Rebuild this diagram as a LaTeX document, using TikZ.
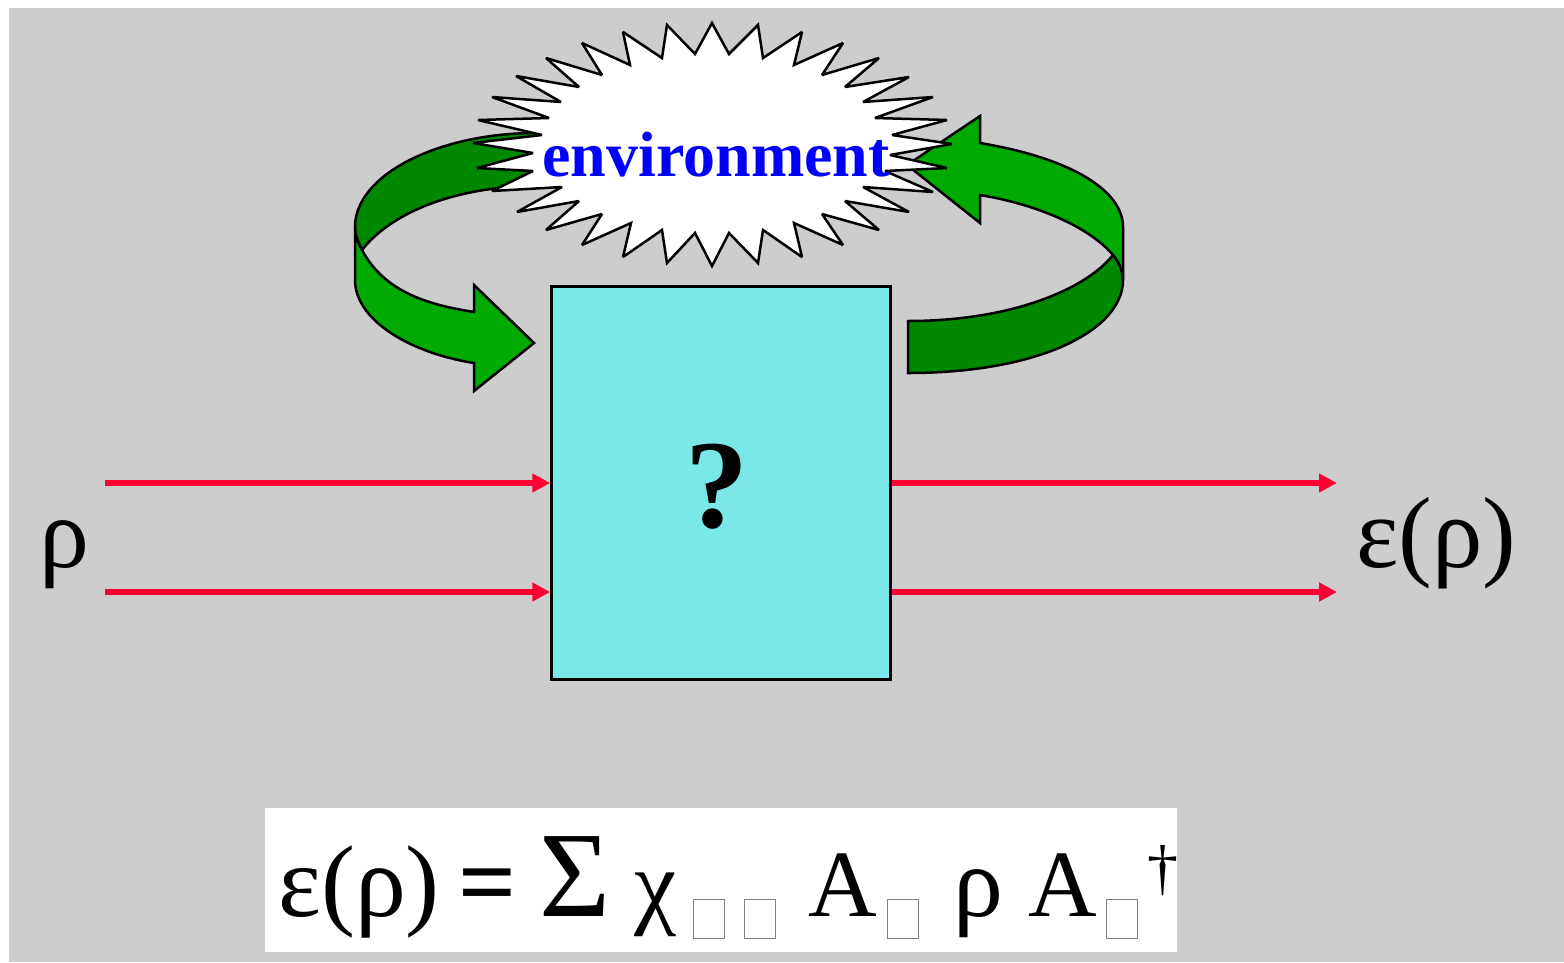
\documentclass[tikz,border=0pt]{standalone}
\usepackage{fontspec}
\setmainfont{Liberation Serif}
\usetikzlibrary{arrows.meta,positioning,calc}
\definecolor{panelgray}{HTML}{CDCDCD}
\definecolor{boxcyan}{HTML}{7AE8E8}
\definecolor{lightgreen}{HTML}{00AA00}
\definecolor{darkgreen}{HTML}{008800}
\definecolor{wirered}{HTML}{FF0033}
\tikzset{
  wire/.style={draw=wirered,line width=6pt,-{Triangle[length=18pt,width=18pt]}},
  outlined/.style={draw=black,line width=2.5pt,line join=miter},
  greeklabel/.style={inner sep=0pt,anchor=base west,font=\fontsize{100}{100}\selectfont},
  latinlabel/.style={inner sep=0pt,anchor=base west,font=\fontsize{95}{95}\selectfont},
  tofu/.style={draw=gray,fill=white,line width=1.5pt,inner sep=0pt,minimum width=31pt,minimum height=39pt}
}
\begin{document}
\begin{tikzpicture}[x=1pt,y=-1pt]
\useasboundingbox (0,0) rectangle (1564,962);
\fill[white] (0,0) rectangle (1564,962);
\fill[panelgray] (9,8) rectangle (1564,962);

\path[outlined,fill=darkgreen] (536,133) .. controls (438,133) and (355,175) .. (355,227) .. controls (355,235) and (358,243) .. (362,250) .. controls (395,208) and (465,186) .. (536,186) -- cycle;
\path[outlined,fill=lightgreen] (355,227) -- (355,280) .. controls (355,320) and (410,353) .. (474,363) -- (474,391) -- (534,343) -- (474,285) -- (474,312) .. controls (430,305) and (385,293) .. (362,250) .. controls (358,243) and (355,235) .. (355,227) -- cycle;

\path[outlined,fill=darkgreen] (908,321) .. controls (1010,321) and (1085,290) .. (1113,255) .. controls (1119,262) and (1123,271) .. (1123,280) .. controls (1123,330) and (1040,373) .. (908,373) -- cycle;
\path[outlined,fill=lightgreen] (980,143) .. controls (1070,158) and (1123,190) .. (1123,227) -- (1123,280) .. controls (1123,271) and (1119,262) .. (1113,255) .. controls (1090,228) and (1040,205) .. (980,195) -- (980,223) -- (907,165) -- (980,116) -- cycle;

\path[outlined,fill=white,miter limit=2.5] (712,23) -- (729,54) -- (758,25) -- (763,58) -- (802,32) -- (794,65) -- (843,43) -- (822,75) -- (879,58) -- (845,87) -- (909,77) -- (863,102) -- (933,97) -- (875,118) -- (947,120) -- (892,135) -- (952,144) -- (890,155) -- (947,168) -- (885,171) -- (933,192) -- (863,187) -- (909,212) -- (845,201) -- (879,230) -- (822,214) -- (843,245) -- (794,223) -- (802,257) -- (763,230) -- (758,263) -- (729,233) -- (712,266) -- (695,233) -- (667,263) -- (662,230) -- (623,257) -- (631,223) -- (582,245) -- (602,214) -- (546,230) -- (579,201) -- (517,212) -- (562,187) -- (492,191) -- (533,171) -- (477,168) -- (533,153) -- (473,143) -- (542,135) -- (478,120) -- (549,118) -- (492,97) -- (561,102) -- (516,76) -- (579,87) -- (546,58) -- (602,75) -- (582,43) -- (630,65) -- (623,32) -- (662,58) -- (667,25) -- (695,54) -- cycle;

\node[text=blue,inner sep=0pt,font=\fontsize{64}{64}\selectfont\bfseries] (env) at (716,155) {environment};

\node[draw=black,line width=2.5pt,fill=boxcyan,minimum width=339pt,minimum height=393pt,inner sep=0pt] (box) at (721,483) {};
\node[inner sep=0pt,font=\fontsize{126}{126}\selectfont\bfseries] (qmark) at (717,487) {?};

\coordinate (inA) at (105,483);
\coordinate (inB) at (105,592);
\coordinate (outA) at (1337,483);
\coordinate (outB) at (1337,592);
\draw[wire] (inA) -- (box.west |- inA);
\draw[wire] (inB) -- (box.west |- inB);
\draw[wire] (box.east |- outA) -- (outA);
\draw[wire] (box.east |- outB) -- (outB);

\node[greeklabel] (rhoin) at (39,567) {ρ};
\node[greeklabel,font=\fontsize{101}{101}\selectfont] (rhoout) at (1356,567) {ε(ρ)};

\fill[white] (265,808) rectangle (1177,952);
\node[greeklabel,font=\fontsize{102}{102}\selectfont] (eqlhs) at (278,916) {ε(ρ)};
\node[latinlabel,font=\fontsize{102}{102}\selectfont\bfseries] (eqsign) at (458,916) {=};
\node[greeklabel,font=\fontsize{122}{122}\selectfont] (eqsum) at (539,916) {Σ};
\node[latinlabel] (eqchi) at (634,916) {χ};
\node[tofu] (subA) at (709,919) {};
\node[tofu] (subB) at (760,919) {};
\node[latinlabel] (eqA) at (808,916) {A};
\node[tofu] (subC) at (903,919) {};
\node[greeklabel] (eqrho) at (953,916) {ρ};
\node[latinlabel] (eqAdag) at (1028,916) {A};
\node[tofu] (subD) at (1122,919) {};
\node[latinlabel,font=\fontsize{62}{62}\selectfont] (eqdag) at (1147,888) {†};
\end{tikzpicture}
\end{document}
